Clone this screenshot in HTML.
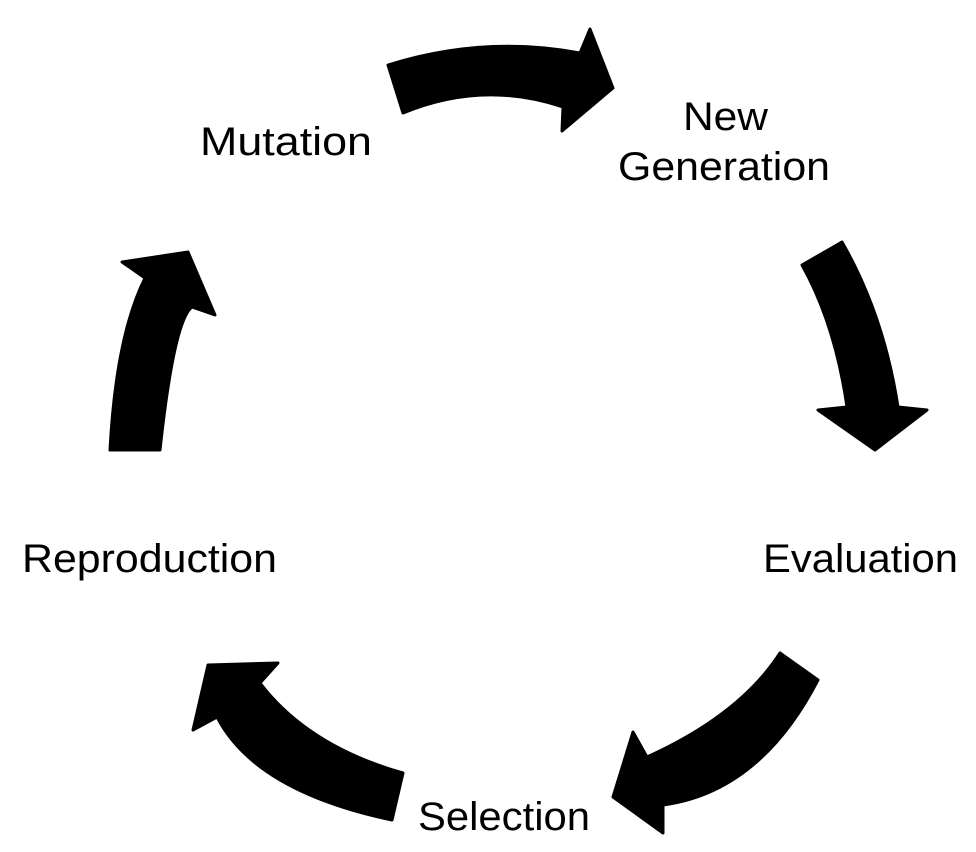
<!DOCTYPE html>
<html><head><style>html,body{margin:0;padding:0;background:#fff}svg{display:block}</style></head>
<body>
<svg width="976" height="852" viewBox="0 0 976 852" xmlns="http://www.w3.org/2000/svg">
<g fill="#000" stroke="#000" stroke-width="3" stroke-linejoin="round">
<path d="M388,65 Q484,35 580,53 L590,29 L613,88 L562,131 L563,107 Q483,80 403,113 Z"/>
<path d="M802,265 L842,242 Q884,315 898,407 L927,410 L875,450 L818,410 L847,407 Q835,324 802,265 Z"/>
<path d="M780,653 L818,680 Q760,792 663,805 L663,833 L613,797 L633,732 L647,757 Q740,715 780,653 Z"/>
<path d="M403,773 L392,820 Q255,791 217,717 L193,730 L208,665 L278,663 L260,683 Q308,746 403,773 Z"/>
<path d="M110,450 L160,450 Q174,321 192,307 L215,315 L188,252 L122,262 L145,278 Q116,336 110,450 Z"/>
</g>
<g font-family="Liberation Sans, sans-serif" font-size="40" fill="#000">
<text x="200" y="155" textLength="172" lengthAdjust="spacingAndGlyphs">Mutation</text>
<text x="683" y="130" textLength="85" lengthAdjust="spacingAndGlyphs">New</text>
<text x="618" y="180" textLength="212" lengthAdjust="spacingAndGlyphs">Generation</text>
<text x="763" y="572" textLength="195" lengthAdjust="spacingAndGlyphs">Evaluation</text>
<text x="22" y="572" textLength="255" lengthAdjust="spacingAndGlyphs">Reproduction</text>
<text x="418" y="830" textLength="172" lengthAdjust="spacingAndGlyphs">Selection</text>
</g>
</svg>
</body></html>
